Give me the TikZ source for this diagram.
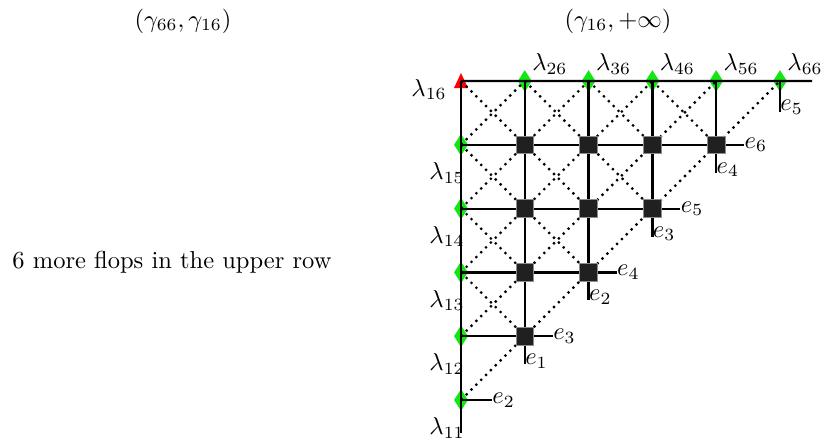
\documentclass[tikz,border=0pt]{standalone}
\usetikzlibrary{shapes.geometric,calc}
\definecolor{mkgreen}{RGB}{20,230,20}
\definecolor{sqfill}{RGB}{32,32,32}
\begin{document}
\begin{tikzpicture}[x=0.408pt,y=-0.408pt,
  gridline/.style={line width=0.9pt},
  dotline/.style={line width=0.9pt, dash pattern=on 0.9pt off 1.9pt},
  sqmark/.style={rectangle, fill=sqfill, draw=black!45, line width=0.3pt, minimum size=7.2pt, inner sep=0pt},
  diamark/.style={diamond, fill=mkgreen, inner sep=0pt, minimum width=5.8pt, minimum height=9pt},
  lab/.style={inner sep=0pt},
]
\useasboundingbox (0,0) rectangle (822,438);
\foreach \i in {1,...,6}{\foreach \j in {1,...,6}{\coordinate (g\i\j) at ({461+(\i-1)*63.8},{400-(\j-1)*63.8});}}
% markers (under the lines)
\foreach \j in {1,...,5}{\node[diamark] (dl\j) at (g1\j) {};}
\foreach \i in {2,...,6}{\node[diamark] (dt\i) at (g\i6) {};}
\fill[red] (g16) ++(-7,7) -- ++(14,0) -- ++(-7,-15) -- cycle;
% stub ends
\coordinate (axend) at (461,433);
\coordinate (topend) at (812,81);
\coordinate (h1) at ($(g11)+(31,0)$);
\coordinate (h2) at ($(g22)+(28,0)$);
\coordinate (h3) at ($(g33)+(28,0)$);
\coordinate (h4) at ($(g44)+(28,0)$);
\coordinate (h5) at ($(g55)+(28,0)$);
\coordinate (v2) at ($(g22)+(0,28)$);
\coordinate (v3) at ($(g33)+(0,28)$);
\coordinate (v4) at ($(g44)+(0,28)$);
\coordinate (v5) at ($(g55)+(0,28)$);
\coordinate (v6) at ($(g66)+(0,31)$);
% dotted diagonals
\draw[dotline] (g11) -- (g66);
\draw[dotline] (g12) -- (g56);
\draw[dotline] (g13) -- (g46);
\draw[dotline] (g14) -- (g36);
\draw[dotline] (g15) -- (g26);
\draw[dotline] (g13) -- (g22);
\draw[dotline] (g14) -- (g23);
\draw[dotline] (g15) -- (g33);
\draw[dotline] (g16) -- (g34);
\draw[dotline] (g26) -- (g44);
\draw[dotline] (g36) -- (g45);
\draw[dotline] (g46) -- (g55);
% solid lines
\draw[gridline] (g16) -- (g11) -- (axend);
\draw[gridline] (g16) -- (topend);
\draw[gridline] (g11) -- (h1);
\draw[gridline] (g12) -- (g22) -- (h2);
\draw[gridline] (g13) -- (g33) -- (h3);
\draw[gridline] (g14) -- (g44) -- (h4);
\draw[gridline] (g15) -- (g55) -- (h5);
\draw[gridline] (g26) -- (g22) -- (v2);
\draw[gridline] (g36) -- (g33) -- (v3);
\draw[gridline] (g46) -- (g44) -- (v4);
\draw[gridline] (g56) -- (g55) -- (v5);
\draw[gridline] (g66) -- (v6);
% squares
\foreach \i/\j in {2/2,2/3,2/4,2/5,3/3,3/4,3/5,4/4,4/5,5/5}{\node[sqmark] (s\i\j) at (g\i\j) {};}
% e labels
\node[lab, anchor=west] (eh1) at (h1) {$e_2$};
\node[lab, anchor=west] (eh2) at (h2) {$e_3$};
\node[lab, anchor=west] (eh3) at (h3) {$e_4$};
\node[lab, anchor=west] (eh4) at (h4) {$e_5$};
\node[lab, anchor=west] (eh5) at (h5) {$e_6$};
\node[lab, anchor=west, yshift=1.2pt] (ev2) at (v2) {$e_1$};
\node[lab, anchor=west, yshift=1.2pt] (ev3) at (v3) {$e_2$};
\node[lab, anchor=west, yshift=1.2pt] (ev4) at (v4) {$e_3$};
\node[lab, anchor=west, yshift=1.2pt] (ev5) at (v5) {$e_4$};
\node[lab, anchor=west, yshift=2pt] (ev6) at (v6) {$e_5$};
% lambda labels
\node[lab] (l16) at (429,89.5) {$\lambda_{16}$};
\foreach \k in {2,...,6}{\node[lab] (lt\k) at ({461+(\k-1)*63.8+25},64) {$\lambda_{\k6}$};}
\foreach \j in {1,...,5}{\node[lab] (ll\j) at (447,{400-(\j-1)*63.8+28}) {$\lambda_{1\j}$};}
% texts
\node (hda) at (183,21) {$(\gamma_{66},\gamma_{16})$};
\node (hdb) at (618,21) {$(\gamma_{16},+\infty)$};
\node[anchor=base west, inner sep=0pt] (flops) at (12,268) {6 more flops in the upper row};
\end{tikzpicture}
\end{document}
